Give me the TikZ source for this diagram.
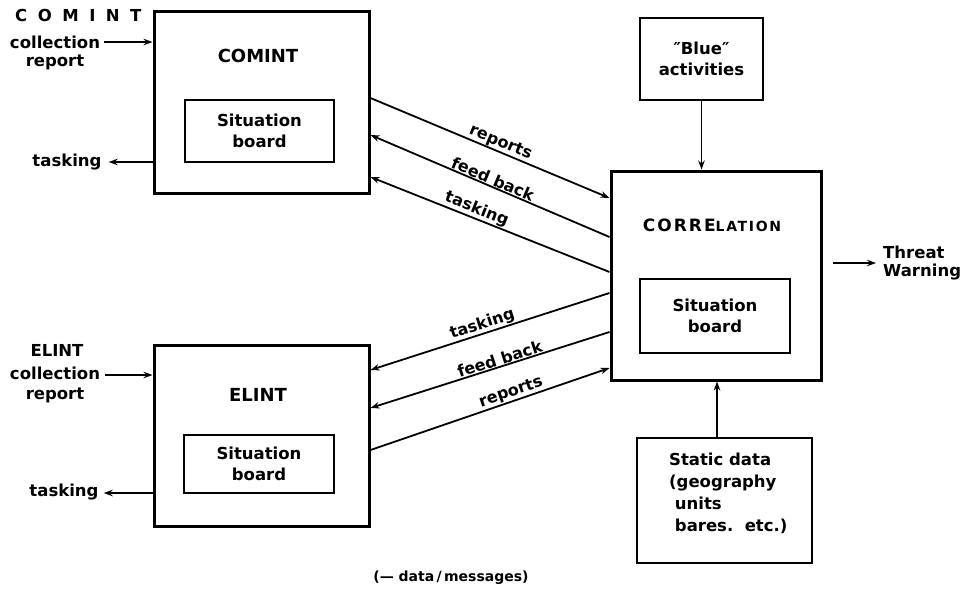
\documentclass[tikz,border=0pt]{standalone}
\usepackage{fontspec}
\setmainfont{DejaVu Sans}
\usetikzlibrary{arrows.meta,calc}
\begin{document}
\begin{tikzpicture}[x=1pt,y=-1pt,
  font=\bfseries\fontsize{16.5}{18}\selectfont,
  outerbox/.style={draw,line width=3pt,inner sep=0pt},
  innerbox/.style={draw,line width=1.8pt,inner sep=0pt,align=center,font=\bfseries\fontsize{16.5}{21}\selectfont},
  plainbox/.style={draw,line width=2.6pt,inner sep=0pt},
  lbl/.style={inner sep=0pt,align=center},
  title/.style={inner sep=0pt,font=\bfseries\fontsize{18}{20}\selectfont},
  arr/.style={line width=1.8pt,-{Stealth[length=9pt,width=6.5pt]}},
  slab/.style={inner sep=0.5pt,sloped,above,font=\bfseries\fontsize{16}{18}\selectfont}
]
\useasboundingbox (0,0) rectangle (962,594);

% boxes
\node[outerbox,minimum width=215pt,minimum height=181pt] (comint) at (261.5,102.5) {};
\node[innerbox,minimum width=149pt,minimum height=62pt] (csb) at (259.5,131) {Situation\\board};
\node[title] (comintt) at (258,56) {COMINT};

\node[outerbox,minimum width=215pt,minimum height=181pt] (elint) at (261.5,435.5) {};
\node[innerbox,minimum width=150pt,minimum height=58pt] (esb) at (259,464) {Situation\\board};
\node[title] (elintt) at (258,395) {ELINT};

\node[outerbox,minimum width=210pt,minimum height=209pt] (corr) at (716,275.5) {};
\node[innerbox,minimum width=150pt,minimum height=74pt] (rsb) at (715,316) {Situation\\board};
\node[inner sep=0pt] (corrt) at (712,225) {\addfontfeature{LetterSpace=12}\fontsize{17}{20}\selectfont CORRE\fontsize{14}{20}\selectfont LATION};

\node[plainbox,minimum width=123pt,minimum height=82pt,align=center,font=\bfseries\fontsize{16.5}{21}\selectfont] (blue) at (701.5,59) {″Blue″\\activities};
\node[plainbox,minimum width=175pt,minimum height=125pt] (static) at (724.5,500.5) {};
\node[lbl,align=left,anchor=north west,font=\bfseries\fontsize{16.5}{22}\selectfont] (statict) at (669,453) {Static data\\(geography\\\ units\\\ bares.\ \ etc.)};

% left labels
\node[lbl,anchor=west] (cl1) at (15,15) {C\hspace{10.5pt}O\hspace{10.5pt}M\hspace{10.5pt}I\hspace{10.5pt}N\hspace{10.5pt}T};
\node[lbl] (cl2) at (55,42) {collection};
\node[lbl] (cl3) at (55,62) {report};
\node[lbl] (ctask) at (67,162) {tasking};

\node[lbl] (el1) at (57,350) {ELINT};
\node[lbl] (el2) at (55,373) {collection};
\node[lbl] (el3) at (55,395) {report};
\node[lbl] (etask) at (64,492) {tasking};

% left arrows
\draw[arr] ($(cl2.east)+(4,0)$) -- (comint.west |- cl2.east);
\draw[arr] (comint.west |- ctask.east) -- ($(ctask.east)+(7,0)$);
\draw[arr] ($(el2.east)+(5,2)$) -- ($(elint.west |- el2.east)+(0,2)$);
\draw[arr] ($(elint.west |- etask.east)+(0,1)$) -- ($(etask.east)+(5,1)$);

% connectors COMINT - CORRELATION
\coordinate (ca) at (comint.east |- 0,98);
\coordinate (cb) at (comint.east |- 0,135);
\coordinate (cc) at (comint.east |- 0,177);
\coordinate (ra) at (corr.west |- 0,198);
\coordinate (rb) at (corr.west |- 0,237);
\coordinate (rc) at (corr.west |- 0,272);
\draw[arr] (ca) -- node[slab,pos=0.53] {reports} (ra);
\draw[arr] (rb) -- node[slab,pos=0.5] {feed back} (cb);
\draw[arr] (rc) -- node[slab,pos=0.57] {tasking} (cc);

% connectors ELINT - CORRELATION
\coordinate (ea) at (elint.east |- 0,370);
\coordinate (eb) at (elint.east |- 0,408);
\coordinate (ec) at (elint.east |- 0,450);
\coordinate (rd) at (corr.west |- 0,293);
\coordinate (re) at (corr.west |- 0,332);
\coordinate (rf) at (corr.west |- 0,368);
\draw[arr] (rd) -- node[slab,pos=0.52] {tasking} (ea);
\draw[arr] (re) -- node[slab,pos=0.45] {feed back} (eb);
\draw[arr] (ec) -- node[slab,pos=0.6] {reports} (rf);

% vertical arrows
\draw[arr] (blue.south) -- (blue.south |- corr.north);
\draw[arr] ($(static.north)+(-7.5,0)$) -- ($(static.north |- corr.south)+(-7.5,0)$);

% threat warning
\node[lbl,align=left,anchor=west] (threat) at (883,263) {Threat\\Warning};
\coordinate (tw) at ($(corr.east |- threat.west)+(10,0)$);
\draw[arr] (tw) -- ($(threat.west)+(-7,0)$);

% caption
\node[lbl,font=\bfseries\fontsize{14}{16}\selectfont] (cap) at (451,578) {(--- data\,/\,messages)};
\end{tikzpicture}
\end{document}
